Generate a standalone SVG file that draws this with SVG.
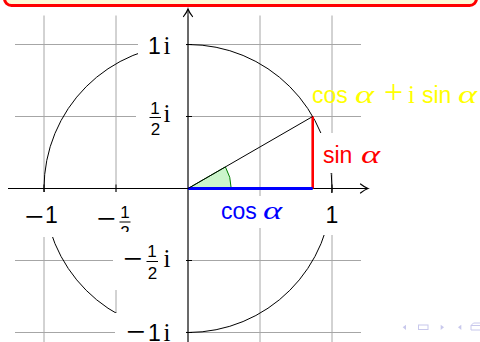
<svg xmlns="http://www.w3.org/2000/svg" width="480" height="342" viewBox="0 0 480 342">
<defs>
<style>
.grid{stroke:#a6a6a6;stroke-width:1;fill:none}
.ax{stroke:#000;stroke-width:1;fill:none}
.tick{stroke:#000;stroke-width:1}
.bg{fill:#fff;stroke:none}
.sans{font-family:"Liberation Sans",Arial,sans-serif;font-size:23px}
.serif{font-family:"Liberation Serif","Times New Roman",serif}
.al{font-family:"Liberation Serif","Times New Roman",serif;font-style:italic;font-size:26px}
.num{font-family:"Liberation Sans",Arial,sans-serif;font-size:17px;text-anchor:middle}
.dig{font-family:"Liberation Sans",Arial,sans-serif;font-size:23px;text-anchor:middle}
.im{font-family:"Liberation Serif","Times New Roman",serif;font-size:25px;text-anchor:middle}
.mi{font-family:"Liberation Serif","Times New Roman",serif;font-size:34px;text-anchor:middle}
.nav{fill:#c8c8ec;stroke:none}
.navs{fill:none;stroke:#c8c8ec;stroke-width:1}
</style>
<marker id="arr" markerUnits="userSpaceOnUse" orient="auto" overflow="visible" markerWidth="10" markerHeight="10" refX="0" refY="0">
<path d="M-7.5,-4.5 Q-3,-1 0,0 Q-3,1 -7.5,4.5" fill="none" stroke="#000" stroke-width="1.2" stroke-linecap="round"/>
</marker>
</defs>
<rect width="480" height="342" fill="#fff"/>
<g id="block">
<rect x="4.5" y="-30" width="472" height="35.5" rx="7" fill="#fdf9d8" stroke="#ff0000" stroke-width="3"/>
</g>
<g id="grid" class="grid">
<path d="M44,15.5V361.5M116,15.5V361.5M188,15.5V361.5M260,15.5V361.5M332,15.5V361.5"/>
<path d="M15,44.5H361M15,116.5H361M15,188.5H361M15,260.5H361M15,332.5H361"/>
</g>
<g id="wedge">
<path d="M188,188.5L231.2,188.5A43.2,43.2 0 0 0 225.4,166.9Z" fill="#ccf5cc" stroke="#008000" stroke-width="1"/>
</g>
<g id="connectors">
<line class="ax" x1="8" y1="188.5" x2="368" y2="188.5" marker-end="url(#arr)"/>
<line class="ax" x1="188" y1="368" x2="188" y2="9" marker-end="url(#arr)"/>
</g>
<g id="unit-circle">
<circle cx="188" cy="188.5" r="144" fill="none" stroke="#000" stroke-width="1"/>
</g>
<g id="sin">
<line x1="312.7" y1="116.5" x2="312.7" y2="188.5" stroke="#ff0000" stroke-width="2.6"/>
<rect class="bg" x="316" y="133" width="72" height="40"/>
<text class="sans" x="323" y="163" fill="#ff0000">sin</text>
<text class="al" transform="translate(361,163) scale(1.4,1)" fill="#ff0000">α</text>
</g>
<g id="cos">
<line x1="188" y1="188.5" x2="312.7" y2="188.5" stroke="#0000ff" stroke-width="2.8"/>
<rect class="bg" x="214" y="196" width="74" height="32"/>
<text class="sans" x="221" y="218.5" fill="#0000ff">cos</text>
<text class="al" transform="translate(263,218.5) scale(1.4,1)" fill="#0000ff">α</text>
</g>
<g id="radius">
<line x1="188" y1="188.5" x2="312.7" y2="116.5" stroke="#000" stroke-width="1"/>
</g>
<g id="point-label" fill="#ffff00">
<text class="sans" x="312" y="103">cos</text>
<text class="al" transform="translate(355,103) scale(1.4,1)">α</text>
<text class="serif" x="393.5" y="103" font-size="34" text-anchor="middle">+</text>
<text class="serif" x="408" y="103" font-size="25">i</text>
<text class="sans" x="422" y="103">sin</text>
<text class="al" transform="translate(458,103) scale(1.4,1)">α</text>
</g>
<g id="x-labels">
<line class="tick" x1="44" y1="184.5" x2="44" y2="192.5"/>
<rect class="bg" x="19" y="192" width="42" height="45"/>
<text class="mi" x="34" y="227.5">−</text>
<text class="dig" x="51.5" y="222.5">1</text>
<line class="tick" x1="116" y1="184.5" x2="116" y2="192.5"/>
<rect class="bg" x="91" y="192" width="47" height="48"/>
<text class="mi" x="106" y="230">−</text>
<text class="num" x="125" y="218">1</text>
<line x1="119.5" y1="222" x2="130.5" y2="222" stroke="#000" stroke-width="1"/>
<text class="num" x="125" y="238">2</text>
<line class="tick" x1="332" y1="184.5" x2="332" y2="192.5"/>
<rect class="bg" x="318" y="193" width="28" height="42"/>
<text class="dig" x="332" y="223">1</text>
</g>
<g id="y-labels">
<line class="tick" x1="184" y1="332.5" x2="192" y2="332.5"/>
<rect class="bg" x="115" y="313" width="71" height="40"/>
<text class="mi" x="135.5" y="342.5">−</text>
<text class="dig" x="154.5" y="341">1</text>
<text class="im" x="167" y="341">i</text>
<line class="tick" x1="184" y1="260.5" x2="192" y2="260.5"/>
<rect class="bg" x="113" y="232" width="73" height="58"/>
<text class="mi" x="132.5" y="269.5">−</text>
<text class="num" x="152" y="257">1</text>
<line x1="146.5" y1="261.5" x2="158" y2="261.5" stroke="#000" stroke-width="1"/>
<text class="num" x="152.5" y="279">2</text>
<text class="im" x="167" y="267">i</text>
<line class="tick" x1="184" y1="116.5" x2="192" y2="116.5"/>
<rect class="bg" x="136" y="96" width="50" height="42"/>
<text class="num" x="155" y="113.5">1</text>
<line x1="149.5" y1="117.5" x2="161" y2="117.5" stroke="#000" stroke-width="1"/>
<text class="num" x="155.5" y="134.5">2</text>
<text class="im" x="167" y="122">i</text>
<line class="tick" x1="184" y1="44.5" x2="192" y2="44.5"/>
<rect class="bg" x="138" y="26" width="48" height="36"/>
<text class="dig" x="154.5" y="54">1</text>
<text class="im" x="167" y="54">i</text>
</g>
<g id="navigation">
<path class="nav" d="M402.7,327.3L406,324.7V330Z"/>
<rect class="navs" x="418.5" y="325" width="9.5" height="4.5"/>
<path class="nav" d="M444,327.3L440.7,324.7V330Z"/>
<path class="nav" d="M458,327.3L461.3,324.7V330Z"/>
<path class="navs" d="M471,330V325.5L473.5,323H480M471,325.5H480M471,330H480"/>
</g>
</svg>
